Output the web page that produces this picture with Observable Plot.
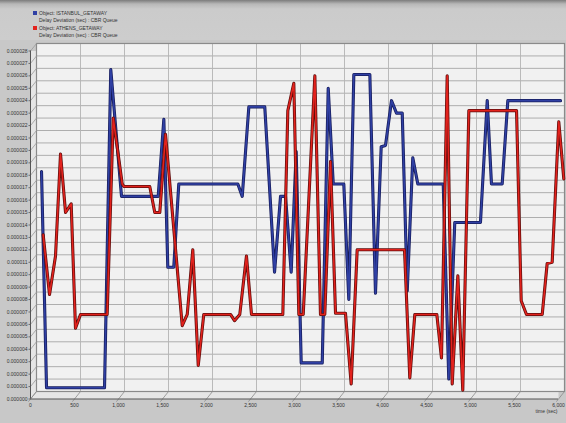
<!DOCTYPE html>
<html><head><meta charset="utf-8">
<script src="https://cdn.jsdelivr.net/npm/d3@7"></script>
<script src="https://cdn.jsdelivr.net/npm/@observablehq/plot@0.6"></script>
<style>
html,body{margin:0;padding:0;background:#c8c8c8;}
#wrap{width:566px;height:423px;position:relative;overflow:hidden;}
#legend{position:relative;height:40px;width:566px;background:linear-gradient(#7c7c7c 0px,#b8b8b8 4px,#cbcbcb 9px,#cdcdcd 40px);font-family:"Liberation Sans",Arial,sans-serif;font-size:5px;color:#333;}
.sw{position:absolute;left:33px;width:4px;height:4px;}
.lt{position:absolute;left:39px;white-space:nowrap;line-height:6px;}
#chart svg{display:block;}
</style></head><body>
<div id="wrap"><div id="legend"></div><div id="chart"></div></div>
<script>
// ---- data ----
const seriesNames = ["Object: ISTANBUL_GETAWAY", "Object: ATHENS_GETAWAY"];
const seriesStat = "Delay Deviation (sec) : CBR Queue";
const seriesColors = ["#3040a4", "#e3221d"];
const seriesDark = ["#161c5c", "#5e0d0c"];

const istanbulTime = [57,114,773,844,966,1383,1447,1492,1560,1617,2288,2338,2413,2594,2705,2773,2830,2894,2951,3008,3247,3315,3372,3492,3549,3606,3788,3852,3917,3966,4034,4091,4156,4213,4276,4333,4622,4685,4753,5045,5122,5170,5292,5356,5955];
const istanbulDelay = [17.7e-6,0.3e-6,0.3e-6,25.9e-6,15.7e-6,15.7e-6,21.9e-6,10.0e-6,10.0e-6,16.7e-6,16.7e-6,15.7e-6,22.9e-6,22.9e-6,9.6e-6,15.7e-6,15.7e-6,9.6e-6,19.3e-6,2.3e-6,2.3e-6,24.4e-6,16.7e-6,16.7e-6,7.4e-6,25.5e-6,25.5e-6,7.9e-6,19.7e-6,19.8e-6,23.4e-6,22.4e-6,22.4e-6,8.1e-6,18.8e-6,16.7e-6,16.7e-6,1.0e-6,13.6e-6,13.6e-6,23.4e-6,16.7e-6,16.7e-6,23.4e-6,23.4e-6];

const athensTime = [76,148,216,273,330,394,443,500,803,872,974,992,1287,1344,1401,1466,1656,1713,1776,1838,1901,2205,2250,2310,2386,2443,2799,2856,2924,2981,3031,3163,3227,3276,3341,3398,3511,3576,3644,4182,4242,4299,4549,4602,4667,4724,4788,4844,4913,5455,5508,5568,5747,5803,5860,5935,5992];
const athensDelay = [12.6e-6,7.8e-6,10.9e-6,19.1e-6,14.4e-6,15.1e-6,5.1e-6,6.2e-6,6.2e-6,22.0e-6,16.7e-6,16.5e-6,16.5e-6,14.4e-6,14.4e-6,20.7e-6,5.3e-6,6.2e-6,11.4e-6,2.1e-6,6.2e-6,6.2e-6,5.7e-6,6.2e-6,10.9e-6,6.2e-6,6.2e-6,22.6e-6,24.8e-6,6.2e-6,6.2e-6,25.4e-6,6.2e-6,6.2e-6,18.5e-6,6.3e-6,6.3e-6,0.6e-6,11.4e-6,11.4e-6,1.1e-6,6.2e-6,6.2e-6,2.7e-6,25.4e-6,0.6e-6,9.3e-6,0.1e-6,22.6e-6,22.6e-6,7.3e-6,6.2e-6,6.2e-6,10.3e-6,10.4e-6,21.7e-6,17.1e-6];

const xTicks = [0,500,1000,1500,2000,2500,3000,3500,4000,4500,5000,5500,6000];
const xTickLabels = ["0","500","1,000","1,500","2,000","2,500","3,000","3,500","4,000","4,500","5,000","5,500","6,000"];
const yTicks = d3.range(0, 29).map(i => +(i * 1e-6).toFixed(7));
const yTickLabels = yTicks.map(d => d3.format(".6f")(d));
const xTitle = "time (sec)";

// ---- legend ----
const leg = document.getElementById("legend");
seriesNames.forEach((name, i) => {
  const top = 11 + i * 14.5;
  const sw = document.createElement("div");
  sw.className = "sw"; sw.style.top = (top) + "px"; sw.style.background = seriesColors[i];
  leg.appendChild(sw);
  const t1 = document.createElement("div");
  t1.className = "lt"; t1.style.top = (top - 1) + "px"; t1.textContent = name;
  leg.appendChild(t1);
  const t2 = document.createElement("div");
  t2.className = "lt"; t2.style.top = (top + 6) + "px"; t2.textContent = seriesStat;
  leg.appendChild(t2);
});

// ---- chart ----
const W = 566, H = 383, mL = 36, mR = 2, mT = 3, mB = 32;
const ox = -6, oy = 7.5; // pseudo-3D offset of the front axes
const pxX = 6000 / (W - mL - mR), pxY = 28e-6 / (H - mT - mB);
const ist = istanbulTime.map((t, i) => ({t, v: istanbulDelay[i]}));
const ath = athensTime.map((t, i) => ({t, v: athensDelay[i]}));
const fontFamily = "Liberation Sans, Arial, sans-serif";

const chart = Plot.plot({
  width: W, height: H, marginLeft: mL, marginRight: mR, marginTop: mT, marginBottom: mB,
  x: {domain: [0, 6000], axis: null},
  y: {domain: [0, 28e-6], axis: null},
  style: {background: "transparent", fontFamily},
  marks: [
    Plot.frame({fill: "#e6e6e6", stroke: "none", dx: ox, dy: oy}),
    Plot.frame({fill: "#f1f1f1", stroke: "none"}),
    Plot.gridY(yTicks, {stroke: "#a6a6a6", strokeOpacity: 1, strokeWidth: 0.9}),
    Plot.gridX(xTicks, {stroke: "#b3b3b3", strokeOpacity: 1, strokeWidth: 0.9}),
    Plot.frame({stroke: "#8a8a8a", fill: "none", strokeWidth: 1.2}),
    // slanted wall / floor ticks
    Plot.link(yTicks, {x1: 0, y1: d => d, x2: ox * pxX, y2: d => d - oy * pxY, stroke: "#9a9a9a", strokeWidth: 0.8}),
    Plot.link(yTicks, {x1: ox * pxX, y1: d => d - oy * pxY, x2: (ox - 2) * pxX, y2: d => d - oy * pxY, stroke: "#555", strokeWidth: 0.8}),
    Plot.link(xTicks, {x1: d => d, y1: 0, x2: d => d + 1.35 * ox * pxX, y2: -1.35 * oy * pxY, stroke: "#8a8a8a", strokeWidth: 0.8}),
    Plot.ruleY([0], {dx: ox, dy: oy, stroke: "#555", strokeWidth: 1}),
    Plot.ruleX([0], {dx: ox, dy: oy, stroke: "#555", strokeWidth: 1}),
    // tick labels
    Plot.text(yTicks, {x: 0, y: d => d, text: (d, i) => yTickLabels[i], dx: ox - 3, dy: oy, textAnchor: "end", fontSize: 5, fill: "#333"}),
    Plot.text(xTicks, {x: d => d, y: 0, text: (d, i) => xTickLabels[i], dx: ox, dy: oy + 6, fontSize: 5, fill: "#333"}),
    Plot.text([xTitle], {frameAnchor: "bottom-right", dx: -7, dy: 21, textAnchor: "end", fontSize: 5, fill: "#333"}),
    // series
    Plot.line(ist, {x: "t", y: "v", stroke: seriesDark[0], strokeWidth: 3.1, strokeLinejoin: "round"}),
    Plot.line(ist, {x: "t", y: "v", stroke: seriesColors[0], strokeWidth: 1.6, strokeLinejoin: "round"}),
    Plot.line(ath, {x: "t", y: "v", stroke: seriesDark[1], strokeWidth: 3.1, strokeLinejoin: "round"}),
    Plot.line(ath, {x: "t", y: "v", stroke: seriesColors[1], strokeWidth: 1.6, strokeLinejoin: "round"})
  ]
});
document.getElementById("chart").appendChild(chart);
</script>
</body></html>
